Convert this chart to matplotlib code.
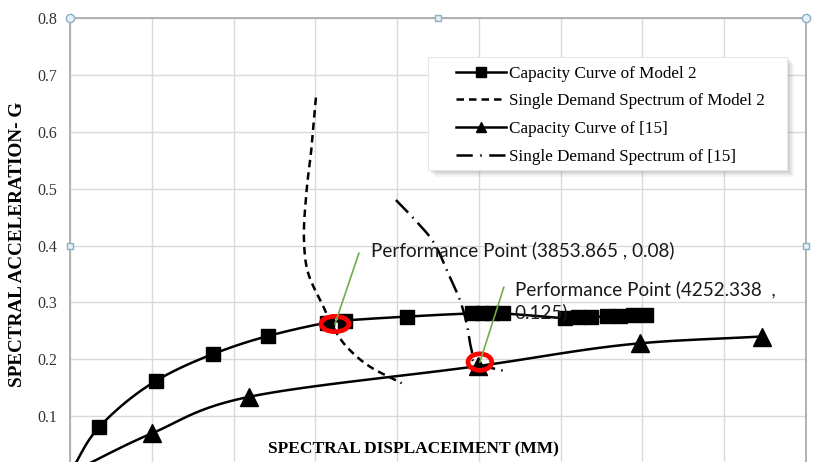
import numpy as np
import matplotlib
matplotlib.use("Agg")
from matplotlib import pyplot as plt
from matplotlib.lines import Line2D
from matplotlib.patches import Ellipse, Rectangle

# capacity curve of model 2 (square markers)
cap2_x = [0, 358, 1051, 1745, 2424, 3138, 3362, 4116, 4914, 5037, 5159, 5293,
          6051, 6210, 6369, 6565, 6724, 6883, 7042]
cap2_y = [0, 0.081, 0.162, 0.209, 0.241, 0.264, 0.268, 0.275, 0.2805, 0.2805, 0.2805, 0.2805,
          0.2726, 0.2735, 0.2744, 0.2752, 0.2761, 0.277, 0.2779]

# capacity curve of [15] (triangle markers)
cap15_x = [0, 1006, 2192, 4988, 6968, 8456]
cap15_y = [0, 0.070, 0.134, 0.188, 0.228, 0.240]

# single demand spectrum of model 2
dem2_x = [3007, 2955, 2894, 2861, 2913, 3097, 3215, 3383, 3667, 4055]
dem2_y = [0.660, 0.574, 0.498, 0.410, 0.351, 0.293, 0.257, 0.222, 0.187, 0.158]

# single demand spectrum of [15]
dem15_x = [3985, 4238, 4441, 4625, 4768, 4850, 4911, 4976, 5293]
dem15_y = [0.480, 0.442, 0.407, 0.351, 0.304, 0.263, 0.216, 0.192, 0.180]

# performance points
pp_x = [3240, 5012]
pp_y = [0.262, 0.195]
pp_text = ["Performance Point (3853.865 , 0.08)",
           "Performance Point (4252.338  ,\n0.125)"]

legend_labels = ["Capacity Curve of Model 2", "Single Demand Spectrum of Model 2",
                 "Capacity Curve of [15]", "Single Demand Spectrum of [15]"]

y_ticks = [0.1, 0.2, 0.3, 0.4, 0.5, 0.6, 0.7, 0.8]


def smooth(xs, ys, n=24):
    # centripetal Catmull-Rom through the points (like a smoothed Excel line)
    sx, sy = 1 / 12.2, 5686.0
    p = np.column_stack([np.asarray(xs, float) * sx, np.asarray(ys, float) * sy])
    p = np.vstack([2 * p[0] - p[1], p, 2 * p[-1] - p[-2]])
    out = [p[1]]
    for i in range(1, len(p) - 2):
        p0, p1, p2, p3 = p[i - 1], p[i], p[i + 1], p[i + 2]
        t0 = 0.0
        t1 = t0 + max(np.linalg.norm(p1 - p0), 1e-6) ** 0.5
        t2 = t1 + max(np.linalg.norm(p2 - p1), 1e-6) ** 0.5
        t3 = t2 + max(np.linalg.norm(p3 - p2), 1e-6) ** 0.5
        for t in np.linspace(t1, t2, n)[1:]:
            a1 = (t1 - t) / (t1 - t0) * p0 + (t - t0) / (t1 - t0) * p1
            a2 = (t2 - t) / (t2 - t1) * p1 + (t - t1) / (t2 - t1) * p2
            a3 = (t3 - t) / (t3 - t2) * p2 + (t - t2) / (t3 - t2) * p3
            b1 = (t2 - t) / (t2 - t0) * a1 + (t - t0) / (t2 - t0) * a2
            b2 = (t3 - t) / (t3 - t1) * a2 + (t - t1) / (t3 - t1) * a3
            out.append((t2 - t) / (t2 - t1) * b1 + (t - t1) / (t2 - t1) * b2)
    out = np.array(out)
    return out[:, 0] / sx, out[:, 1] / sy


W, H = 818, 462
fig = plt.figure(figsize=(W / 100, H / 100), dpi=100)
# plot area runs past the bottom edge of the figure
ax = fig.add_axes([70 / W, -11 / H, 736 / W, 455 / H])
ax.set_xlim(0, 9000)
ax.set_ylim(0, 0.8)
ax.set_xticks(np.arange(0, 9001, 1000))
ax.set_xticklabels([])
ax.set_yticks(y_ticks)
ax.set_yticklabels([f"{v:.1f}" for v in y_ticks], family="Liberation Serif",
                   fontsize=11.5, color="#333333")
ax.tick_params(length=0, pad=9)
ax.grid(True, color="#D9D9D9", lw=1.0)
ax.set_axisbelow(True)
for s in ax.spines.values():
    s.set_color("#ABABAB")
    s.set_linewidth(1.3)

lw = 1.8
dash2 = (0, (3, 2))
dashdot = (0, (7, 2.5, 0.6, 2.5))

x, y = smooth(cap2_x, cap2_y)
ax.plot(x, y, color="black", lw=lw, zorder=3)
ax.plot(cap2_x[1:], cap2_y[1:], ls="none", marker="s", ms=10, color="black", zorder=4)

x, y = smooth(cap15_x, cap15_y)
ax.plot(x, y, color="black", lw=lw, zorder=3)
ax.plot(cap15_x[1:], cap15_y[1:], ls="none", marker="^", ms=13.5, color="black", zorder=4)

x, y = smooth(dem2_x, dem2_y)
ax.plot(x, y, color="black", lw=lw, ls=dash2, zorder=3)

x, y = smooth(dem15_x, dem15_y)
ax.plot(x, y, color="black", lw=lw, ls=dashdot, zorder=3)

# red rings and green leaders at the performance points
ring_size = [(340, 0.027), (290, 0.029)]
leader = [(24, 71), (24, 75)]
label_off = [(36, 74), (35, 82)]
for i in range(2):
    ax.add_patch(Ellipse((pp_x[i], pp_y[i]), ring_size[i][0], ring_size[i][1],
                         fill=False, edgecolor="#FF0000", lw=3.4, zorder=6))
    ax.annotate("", xy=(pp_x[i], pp_y[i]), xytext=leader[i], textcoords="offset pixels",
                arrowprops=dict(arrowstyle="-", color="#70AD47", lw=1.2,
                                shrinkA=0, shrinkB=0), zorder=7)
    ax.annotate(pp_text[i], xy=(pp_x[i], pp_y[i]), xytext=label_off[i],
                textcoords="offset pixels", ha="left", va="center" if i == 0 else "top",
                family="Lato", fontsize=13.6, color="#1A1A1A", linespacing=1.33,
                zorder=7)

# selection handles on the plot area border
for hx, hy, m in [(0, 1, "o"), (0.5, 1, "s"), (1, 1, "o"), (0, 0.5, "s"), (1, 0.5, "s")]:
    ax.plot(hx, hy, marker=m, ms=6 if m == "o" else 5, mfc="#E3F1F8", mec="#8EAFC2",
            mew=1, transform=ax.transAxes, clip_on=False, zorder=10)

# legend box with a soft shadow
bx, by, bw, bh = 428, 57, 359, 113
for k, a in [(7, 0.08), (5, 0.12), (3, 0.18)]:
    fig.patches.append(Rectangle(((bx + k) / W, 1 - (by + bh + k) / H), bw / W, bh / H,
                                 transform=fig.transFigure, facecolor="#7F7F7F",
                                 edgecolor="none", alpha=a, zorder=8))
fig.patches.append(Rectangle((bx / W, 1 - (by + bh) / H), bw / W, bh / H,
                             transform=fig.transFigure, facecolor="white",
                             edgecolor="#E6E6E6", lw=0.8, zorder=9))

handles = [
    Line2D([], [], color="black", lw=lw, marker="s", ms=7),
    Line2D([], [], color="black", lw=lw, ls=dash2),
    Line2D([], [], color="black", lw=lw, marker="^", ms=7),
    Line2D([], [], color="black", lw=lw, ls=(0, (6.5, 3, 0.6, 3))),
]
leg = fig.legend(handles, legend_labels, loc="upper left",
                 bbox_to_anchor=(456 / W, 1 - 65.5 / H), frameon=False,
                 prop=dict(family="Liberation Serif", size=12.3), numpoints=1,
                 handlelength=2.9, handletextpad=0.2, labelspacing=0.7,
                 borderpad=0, borderaxespad=0)
leg.set_zorder(11)

fig.text(18 / W, 1 - 244 / H, "SPECTRAL ACCELERATION- G", rotation=90, ha="center",
         va="center", family="Liberation Serif", weight="bold", fontsize=13.8)
fig.text(413 / W, 1 - 449 / H, "SPECTRAL DISPLACEIMENT (MM)", ha="center", va="center",
         family="Liberation Serif", weight="bold", fontsize=12.5)

fig.savefig("out.png", dpi=100)
